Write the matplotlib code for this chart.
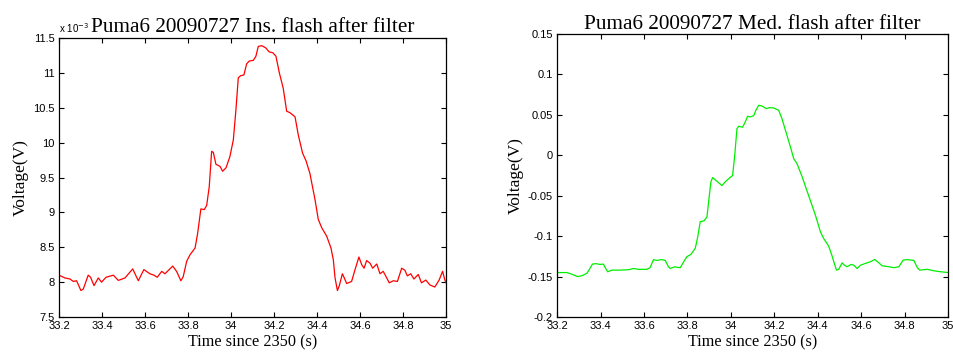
import numpy as np
import matplotlib
matplotlib.use('Agg')
import matplotlib.pyplot as plt
from matplotlib.ticker import FuncFormatter

# ---- dados ----
# flash "Ins." (valores em 1e-3 V)
ins_t = [33.200, 33.228, 33.251, 33.267, 33.282, 33.302, 33.313, 33.336, 33.347,
         33.363, 33.383, 33.398, 33.419, 33.453, 33.476, 33.507, 33.543, 33.569,
         33.595, 33.623, 33.642, 33.657, 33.678, 33.693, 33.729, 33.747, 33.767,
         33.778, 33.794, 33.809, 33.833, 33.845, 33.860, 33.876, 33.887, 33.899,
         33.910, 33.918, 33.930, 33.949, 33.961, 33.977, 33.995, 34.011, 34.023,
         34.034, 34.045, 34.060, 34.073, 34.085, 34.104, 34.116, 34.127, 34.143,
         34.161, 34.178, 34.194, 34.209, 34.225, 34.243, 34.259, 34.274, 34.298,
         34.313, 34.333, 34.349, 34.367, 34.391, 34.406, 34.422, 34.445, 34.465,
         34.476, 34.484, 34.495, 34.504, 34.518, 34.527, 34.538, 34.561, 34.577,
         34.595, 34.608, 34.619, 34.631, 34.647, 34.659, 34.678, 34.693, 34.708,
         34.721, 34.736, 34.755, 34.774, 34.794, 34.809, 34.820, 34.836, 34.851,
         34.871, 34.886, 34.906, 34.925, 34.948, 34.968, 34.984, 34.995, 35.000]
ins_mv = [8.10, 8.06, 8.045, 8.01, 8.02, 7.88, 7.90, 8.10, 8.07,
          7.95, 8.06, 8.00, 8.07, 8.10, 8.025, 8.06, 8.19, 8.02,
          8.18, 8.12, 8.10, 8.07, 8.155, 8.12, 8.23, 8.155, 8.02,
          8.08, 8.30, 8.39, 8.49, 8.70, 9.05, 9.04, 9.10, 9.37,
          9.875, 9.86, 9.69, 9.66, 9.59, 9.64, 9.80, 10.04, 10.47,
          10.93, 10.96, 10.97, 11.13, 11.17, 11.18, 11.24, 11.38, 11.39,
          11.36, 11.30, 11.29, 11.24, 11.00, 10.78, 10.45, 10.43, 10.37,
          10.11, 9.85, 9.74, 9.56, 9.18, 8.90, 8.78, 8.66, 8.49,
          8.32, 8.06, 7.88, 7.95, 8.12, 8.06, 7.98, 8.01, 8.18,
          8.36, 8.25, 8.20, 8.31, 8.27, 8.20, 8.26, 8.12, 8.155,
          8.08, 7.99, 8.02, 8.01, 8.20, 8.17, 8.09, 8.12, 8.045,
          8.11, 7.99, 8.03, 7.96, 7.93, 8.03, 8.155, 8.03, 7.99]

# flash "Med." (V)
med_t = [33.200, 33.245, 33.268, 33.294, 33.314, 33.337, 33.349, 33.363, 33.380,
         33.398, 33.413, 33.426, 33.433, 33.452, 33.490, 33.529, 33.552, 33.575,
         33.613, 33.628, 33.644, 33.659, 33.682, 33.698, 33.713, 33.721, 33.741,
         33.767, 33.782, 33.797, 33.816, 33.836, 33.847, 33.859, 33.877, 33.890,
         33.897, 33.908, 33.916, 33.939, 33.959, 33.974, 33.994, 34.008, 34.017,
         34.028, 34.036, 34.054, 34.066, 34.077, 34.089, 34.105, 34.115, 34.128,
         34.143, 34.163, 34.178, 34.197, 34.220, 34.235, 34.258, 34.274, 34.289,
         34.304, 34.327, 34.358, 34.389, 34.412, 34.427, 34.450, 34.466, 34.476,
         34.486, 34.496, 34.512, 34.522, 34.535, 34.553, 34.565, 34.581, 34.596,
         34.619, 34.642, 34.662, 34.681, 34.696, 34.727, 34.750, 34.773, 34.793,
         34.811, 34.842, 34.858, 34.869, 34.903, 34.934, 34.965, 35.000]
med_v = [-0.145, -0.145, -0.147, -0.150, -0.149, -0.146, -0.141, -0.1345, -0.134,
         -0.135, -0.1345, -0.141, -0.144, -0.142, -0.142, -0.1415, -0.140, -0.141,
         -0.141, -0.139, -0.129, -0.130, -0.129, -0.130, -0.138, -0.140, -0.138,
         -0.139, -0.132, -0.1255, -0.1226, -0.115, -0.1016, -0.082, -0.081, -0.076,
         -0.0588, -0.0328, -0.0275, -0.0328, -0.0374, -0.0328, -0.0279, -0.025, -0.002,
         0.033, 0.036, 0.0347, 0.0413, 0.0483, 0.0475, 0.049, 0.0557, 0.0619,
         0.061, 0.0578, 0.059, 0.0586, 0.0557, 0.0454, 0.0248, 0.0104, -0.004,
         -0.0102, -0.0258, -0.050, -0.074, -0.0946, -0.1028, -0.1123, -0.1247, -0.1337,
         -0.142, -0.1411, -0.133, -0.1358, -0.1378, -0.135, -0.1358, -0.140, -0.136,
         -0.1337, -0.1317, -0.1288, -0.133, -0.1366, -0.1378, -0.139, -0.1378, -0.1296,
         -0.129, -0.130, -0.139, -0.142, -0.141, -0.1428, -0.144, -0.145]

x_ticks = np.arange(33.2, 35.001, 0.2)
ins_ticks = np.arange(7.5, 11.501, 0.5) * 1e-3
med_ticks = np.arange(-0.2, 0.1501, 0.05)

serif = 'Liberation Serif'
sans = 'Liberation Sans'


def fmt(v):
    v = round(v, 4)
    if abs(v) < 1e-9:
        v = 0.0
    return f'{v:g}'


fig = plt.figure(figsize=(9.54, 3.6), dpi=100)
ax1 = fig.add_axes([0.0618, 0.1194, 0.4057, 0.775])
ax2 = fig.add_axes([0.5839, 0.1194, 0.4100, 0.786])


def estilo(ax):
    ax.set_xlim(33.2, 35)
    ax.set_xticks(x_ticks)
    ax.xaxis.set_major_formatter(FuncFormatter(lambda v, p: fmt(v)))
    ax.tick_params(direction='in', top=True, right=True, length=3.5, width=0.8,
                   labelsize=8, pad=3)
    for lbl in ax.get_xticklabels() + ax.get_yticklabels():
        lbl.set_fontfamily(sans)
    for s in ax.spines.values():
        s.set_linewidth(0.9)
    ax.set_xlabel('Time since 2350 (s)', fontfamily=serif, fontsize=11.7, labelpad=2)
    ax.set_ylabel('Voltage(V)', fontfamily=serif, fontsize=12.5, labelpad=3)


# grafico 1 - Ins.
ax1.plot(ins_t, np.array(ins_mv) * 1e-3, color='#ff0000', lw=0.9)
ax1.set_ylim(7.5e-3, 11.5e-3)
ax1.set_yticks(ins_ticks)
ax1.yaxis.set_major_formatter(FuncFormatter(lambda v, p: fmt(v * 1e3)))
estilo(ax1)
ax1.set_title('Puma6 20090727 Ins. flash after filter', fontfamily=serif,
              fontsize=15.3, pad=4)
ax1.text(0.0, 1.012, r'x 10$^{-3}$', transform=ax1.transAxes, fontfamily=sans,
         fontsize=7, ha='left', va='bottom')

# grafico 2 - Med.
ax2.plot(med_t, med_v, color='#00ee00', lw=0.9)
ax2.set_ylim(-0.2, 0.15)
ax2.set_yticks(med_ticks)
ax2.yaxis.set_major_formatter(FuncFormatter(lambda v, p: fmt(v)))
estilo(ax2)
ax2.set_title('Puma6 20090727 Med. flash after filter', fontfamily=serif,
              fontsize=15.3, pad=4)

fig.savefig('out.png', dpi=100)
